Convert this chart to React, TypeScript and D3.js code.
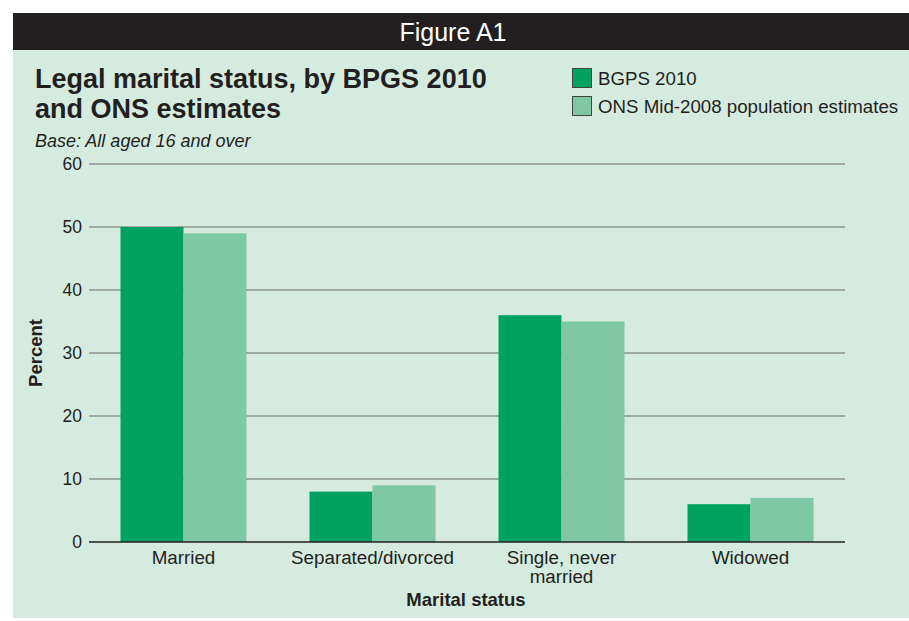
import React from "react";
import * as d3 from "d3";

const categories = ["Married", "Separated/divorced", "Single, never married", "Widowed"];
const categoryLines = [["Married"], ["Separated/divorced"], ["Single, never", "married"], ["Widowed"]];
const seriesNames = ["BGPS 2010", "ONS Mid-2008 population estimates"];
const bgps = [50, 8, 36, 6];
const ons = [49, 9, 35, 7];
const yTicks = [0, 10, 20, 30, 40, 50, 60];

const colors = ["#00a261", "#7ec8a6"];
const FONT = "'Liberation Sans', Arial, Helvetica, sans-serif";

export default function App() {
  const W = 909, H = 621;
  const left = 89, right = 845, top = 164, bottom = 542;
  const x = d3.scaleBand<string>().domain(categories).range([left, right]).paddingInner(0).paddingOuter(0);
  const y = d3.scaleLinear().domain([0, 60]).range([bottom, top]);
  const groupW = x.bandwidth() * (2 / 3);
  const x1 = d3.scaleBand<number>().domain([0, 1]).range([0, groupW]).padding(0);
  const series = [bgps, ons];

  return (
    <svg width={W} height={H} style={{ position: "absolute", left: 0, top: 0, background: "#fff" }} fontFamily={FONT}>
      <rect x={13} y={13} width={W - 13} height={37} fill="#231f20" />
      <text x={453} y={41} fill="#fff" fontSize={25} textAnchor="middle">Figure A1</text>
      <rect x={13} y={50} width={W - 13} height={568} fill="#d6ebe0" />

      <text x={35} y={88} fontSize={27} fontWeight={900} fill="#231f20">Legal marital status, by BPGS 2010</text>
      <text x={35} y={118} fontSize={27} fontWeight={900} fill="#231f20">and ONS estimates</text>
      <text x={35} y={147} fontSize={18} fontStyle="italic" fill="#231f20">Base: All aged 16 and over</text>

      {seriesNames.map((n, i) => (
        <g key={n}>
          <rect x={572.5} y={68.5 + i * 28} width={19} height={19} fill={colors[i]} stroke="#444" strokeWidth={1} />
          <text x={598} y={84.5 + i * 28} fontSize={18.7} fill="#231f20">{n}</text>
        </g>
      ))}

      {yTicks.map((t) => (
        <g key={t}>
          {t !== 0 && <line x1={left} x2={right} y1={y(t)} y2={y(t)} stroke="#6b6b6b" strokeWidth={1.2} />}
          <text x={82} y={y(t) + 6} fontSize={17.5} textAnchor="end" fill="#231f20">{t}</text>
        </g>
      ))}

      {categories.map((c, ci) => {
        const gx = (x(c) as number) + (x.bandwidth() - groupW) / 2;
        return (
          <g key={c}>
            {series.map((s, si) => (
              <rect key={si} x={gx + (x1(si) as number)} y={y(s[ci])} width={x1.bandwidth()} height={y(0) - y(s[ci])} fill={colors[si]} />
            ))}
            {categoryLines[ci].map((ln, li) => (
              <text key={li} x={(x(c) as number) + x.bandwidth() / 2} y={564 + li * 19} fontSize={18.8} textAnchor="middle" fill="#231f20">{ln}</text>
            ))}
          </g>
        );
      })}
      <line x1={left} x2={right} y1={y(0)} y2={y(0)} stroke="#231f20" strokeWidth={1.3} />

      <text x={466} y={606} fontSize={18.5} fontWeight="bold" textAnchor="middle" fill="#231f20">Marital status</text>
      <text transform={`translate(42, ${353}) rotate(-90)`} fontSize={18.5} fontWeight="bold" textAnchor="middle" fill="#231f20">Percent</text>
    </svg>
  );
}
